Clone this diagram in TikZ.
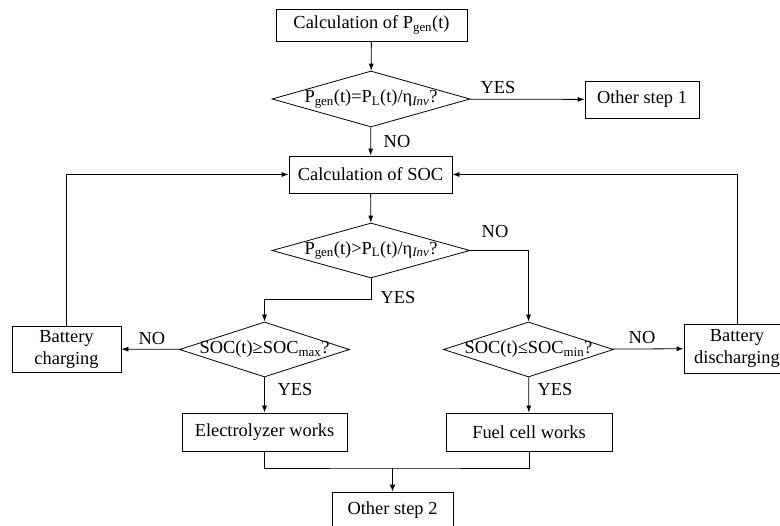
\documentclass[tikz,border=0pt]{standalone}
\usepackage{fontspec}
\setmainfont{Liberation Serif}
\usetikzlibrary{shapes.geometric,arrows.meta}

\tikzset{
    box/.style={draw, rectangle, line width=0.8pt, inner sep=0pt, minimum height=37pt, align=center},
    decision/.style={draw, diamond, line width=0.8pt, inner sep=0pt, minimum width=198pt, minimum height=56pt},
    small decision/.style={decision, minimum width=170pt, minimum height=55pt},
    flow/.style={line width=0.8pt, -{Latex[length=7pt,width=5pt]}},
    lbl/.style={inner sep=0pt}
}

\begin{document}
\begin{tikzpicture}[x=1pt, y=-1pt, font=\fontsize{18.4}{20}\selectfont]
    \clip (0,0) rectangle (780,526);

    % Boxes
    \node[box, minimum width=191pt, minimum height=32pt] (pgen) at (371.5,25) {Calculation of P\textsubscript{gen}(t)};
    \node[box, minimum width=114pt] (step1) at (642,99.5) {Other step 1};
    \node[box, minimum width=163pt] (soc) at (370.5,174.5) {Calculation of SOC};
    \node[box, minimum width=109pt, minimum height=46pt] (charge) at (66.5,349) {Battery\\[2pt]charging};
    \node[box, minimum width=106pt, minimum height=49pt] (discharge) at (737,348.5) {Battery\\[2pt]discharging};
    \node[box, minimum width=165pt, minimum height=38pt] (elec) at (264.5,432) {Electrolyzer works};
    \node[box, minimum width=166pt, minimum height=38pt] (fuel) at (529,432) {Fuel cell works};
    \node[box, minimum width=121pt] (step2) at (392.5,510.5) {Other step 2};

    % Decisions
    \node[decision, label={center:P\textsubscript{gen}(t)=P\textsubscript{L}(t)/η\textsubscript{\textit{Inv}}?}] (d1) at (371,99) {};
    \node[decision, minimum height=55pt, label={center:P\textsubscript{gen}(t)>P\textsubscript{L}(t)/η\textsubscript{\textit{Inv}}?}] (d2) at (371,250.5) {};
    \node[small decision, label={center:SOC(t)≥SOC\textsubscript{max}?}] (d3) at (264.5,349.5) {};
    \node[small decision, label={center:SOC(t)≤SOC\textsubscript{min}?}] (d4) at (528.5,349.5) {};

    % Connectors
    \draw[flow] (pgen) -- (d1);
    \draw[flow] (d1) -- (step1);
    \draw[flow] (d1) -- (soc);
    \draw[flow] (soc) -- (d2);
    \draw[flow] (d2.south) -- ++(0,21) -| (d3.north);
    \draw[flow] (d2.east) -| (d4.north);
    \draw[flow] (d3) -- (charge);
    \draw[flow] (d3) -- (elec);
    \draw[flow] (d4) -- (discharge);
    \draw[flow] (d4) -- (fuel);
    \draw[flow] (charge.north) |- (soc.west);
    \draw[flow] (discharge.north) |- (soc.east);

    \coordinate (join) at (step2.north |- 0,468);
    \draw[line width=0.8pt] (elec.south) |- (join) -| (fuel.south);
    \draw[line width=1.6pt, -{Latex[length=7pt,width=6pt]}] (join) -- (step2);

    % Labels
    \node[lbl] (yes1) at (498,88) {YES};
    \node[lbl] (no1) at (397,142) {NO};
    \node[lbl] (no2) at (495,232) {NO};
    \node[lbl] (yes2) at (398,298) {YES};
    \node[lbl] (no3) at (152,339) {NO};
    \node[lbl] (no4) at (642,338) {NO};
    \node[lbl] (yes3) at (295,390) {YES};
    \node[lbl] (yes4) at (555,390) {YES};
\end{tikzpicture}
\end{document}
